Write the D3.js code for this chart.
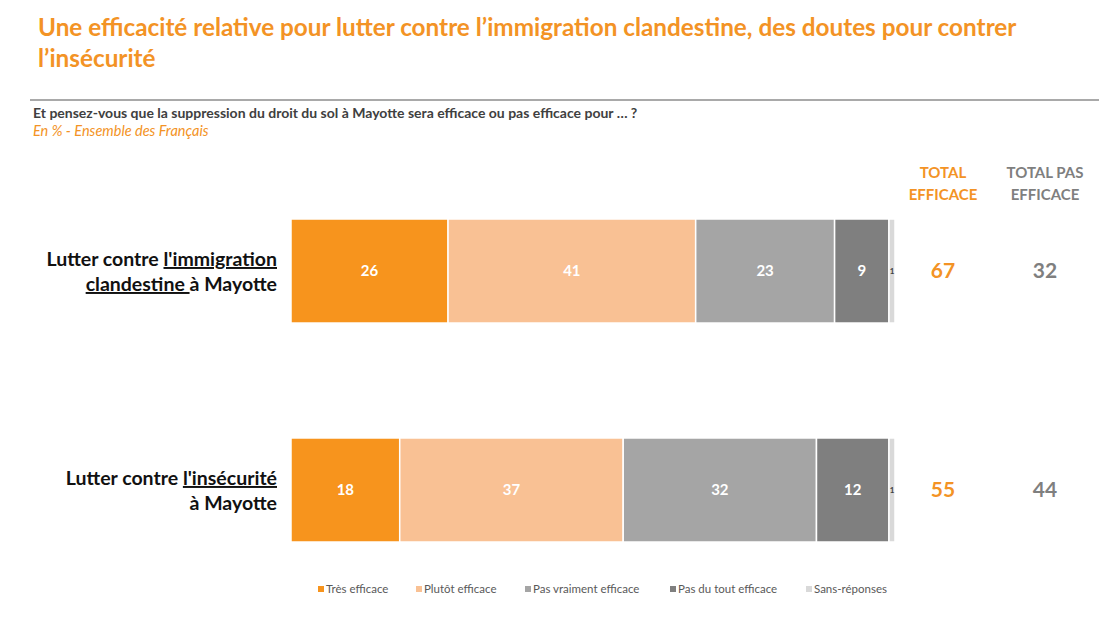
<!DOCTYPE html>
<html>
<head>
<meta charset="utf-8">
<script src="https://cdn.jsdelivr.net/npm/d3@7"></script>
<style>
  body { margin: 0; background: #fff; }
  svg { font-family: Lato, "Open Sans", sans-serif; }
</style>
</head>
<body>
<div id="chart"></div>
<script>
// donnees
const categories = ["immigration", "insecurite"];
const series = ["Très efficace", "Plutôt efficace", "Pas vraiment efficace", "Pas du tout efficace", "Sans-réponses"];
const tresEfficace = [26, 18];
const plutotEfficace = [41, 37];
const pasVraiment = [23, 32];
const pasDuTout = [9, 12];
const sansReponse = [1, 1];
const totalEfficace = [67, 55];
const totalPasEfficace = [32, 44];
const colors = ["#f7941d", "#f9c194", "#a5a5a5", "#7f7f7f", "#d9d9d9"];

// labels, avec le morceau souligne
const rowLabels = [
    [[["Lutter contre ", false], ["l'immigration", true]], [["clandestine ", true], ["à Mayotte", false]]],
    [[["Lutter contre ", false], ["l'insécurité", true]], [["à Mayotte", false]]]
];

const width = 1099, height = 618;
const orange = "#f39325";

const svg = d3.select("#chart").append("svg")
    .attr("width", width)
    .attr("height", height);

// titre
svg.append("text")
    .attr("x", 38).attr("y", 36)
    .attr("fill", orange)
    .attr("font-size", 24.3).attr("font-weight", 700)
    .text("Une efficacité relative pour lutter contre l’immigration clandestine, des doutes pour contrer");
svg.append("text")
    .attr("x", 38).attr("y", 67)
    .attr("fill", orange)
    .attr("font-size", 24.3).attr("font-weight", 700)
    .text("l’insécurité");

svg.append("line")
    .attr("x1", 30).attr("x2", width)
    .attr("y1", 100).attr("y2", 100)
    .attr("stroke", "#8c8c8c").attr("stroke-width", 1.5);

svg.append("text")
    .attr("x", 33).attr("y", 118)
    .attr("fill", "#404040")
    .attr("font-size", 14).attr("font-weight", 700)
    .text("Et pensez-vous que la suppression du droit du sol à Mayotte sera efficace ou pas efficace pour … ?");
svg.append("text")
    .attr("x", 33).attr("y", 136)
    .attr("fill", orange)
    .attr("font-size", 14.5).attr("font-style", "italic")
    .text("En % - Ensemble des Français");

// scales
const x = d3.scaleLinear().domain([0, 100]).range([291, 895]);
const y = d3.scaleBand().domain(categories).range([219, 542]).paddingInner(0.525).paddingOuter(0);

const table = categories.map((c, i) => ({
    cat: c,
    values: [tresEfficace[i], plutotEfficace[i], pasVraiment[i], pasDuTout[i], sansReponse[i]]
}));
const stacked = d3.stack().keys(d3.range(series.length))
    .value((d, k) => d.values[k])(table);

const layers = svg.selectAll(".layer")
    .data(stacked)
    .enter().append("g")
    .attr("class", "layer")
    .attr("fill", (d, i) => colors[i]);

layers.selectAll("rect")
    .data(d => d.map(p => ({ p: p, key: d.key })))
    .enter().append("rect")
    .attr("x", d => x(d.p[0]))
    .attr("width", d => x(d.p[1]) - x(d.p[0]))
    .attr("y", d => y(d.p.data.cat))
    .attr("height", y.bandwidth())
    .attr("stroke", "#fff")
    .attr("stroke-width", 1.5);

// valeurs dans les barres (le 1 des sans-reponses a cote de la barre)
layers.selectAll("text")
    .data(d => d.map(p => ({ p: p, key: d.key })))
    .enter().append("text")
    .attr("x", d => d.key === 4 ? x(d.p[1]) - 3 : (x(d.p[0]) + x(d.p[1])) / 2)
    .attr("y", d => y(d.p.data.cat) + y.bandwidth() / 2)
    .attr("dy", "0.35em")
    .attr("text-anchor", "middle")
    .attr("fill", d => d.key === 4 ? "#404040" : "#fff")
    .attr("font-size", d => d.key === 4 ? 8 : 15)
    .attr("font-weight", 700)
    .text(d => d.p[1] - d.p[0]);

// labels des lignes
categories.forEach((c, i) => {
    const lines = rowLabels[i];
    const cy = y(c) + y.bandwidth() / 2;
    const t = svg.append("text")
        .attr("text-anchor", "end")
        .attr("font-size", 19.5).attr("font-weight", 700)
        .attr("fill", "#111");
    lines.forEach((parts, j) => {
        parts.forEach((part, k) => {
            const ts = t.append("tspan").text(part[0])
                .style("text-decoration", part[1] ? "underline" : "none");
            if (k === 0) ts.attr("x", 277).attr("y", cy - 5 + j * 25);
        });
    });
});

// totaux
const cols = [
    { x: 943, head: ["TOTAL", "EFFICACE"], vals: totalEfficace, color: orange },
    { x: 1045, head: ["TOTAL PAS", "EFFICACE"], vals: totalPasEfficace, color: "#7f7f7f" }
];
cols.forEach(col => {
    col.head.forEach((h, j) => {
        svg.append("text")
            .attr("x", col.x).attr("y", 178 + j * 22)
            .attr("text-anchor", "middle")
            .attr("fill", col.color)
            .attr("font-size", 15).attr("font-weight", 700)
            .text(h);
    });
    svg.selectAll(null)
        .data(categories)
        .enter().append("text")
        .attr("x", col.x)
        .attr("y", (c) => y(c) + y.bandwidth() / 2)
        .attr("dy", "0.35em")
        .attr("text-anchor", "middle")
        .attr("fill", col.color)
        .attr("font-size", 21).attr("font-weight", 700)
        .text((c, i) => col.vals[i]);
});

// legende
const legendX = [318, 416, 525, 670, 806];
const legend = svg.selectAll(".leg")
    .data(series)
    .enter().append("g")
    .attr("class", "leg")
    .attr("transform", (d, i) => "translate(" + legendX[i] + ",589)");
legend.append("rect")
    .attr("x", 0).attr("y", -3)
    .attr("width", 6).attr("height", 6)
    .attr("fill", (d, i) => colors[i]);
legend.append("text")
    .attr("x", 8).attr("dy", "0.35em")
    .attr("fill", "#595959")
    .attr("font-size", 11.5)
    .text(d => d);
</script>
</body>
</html>
